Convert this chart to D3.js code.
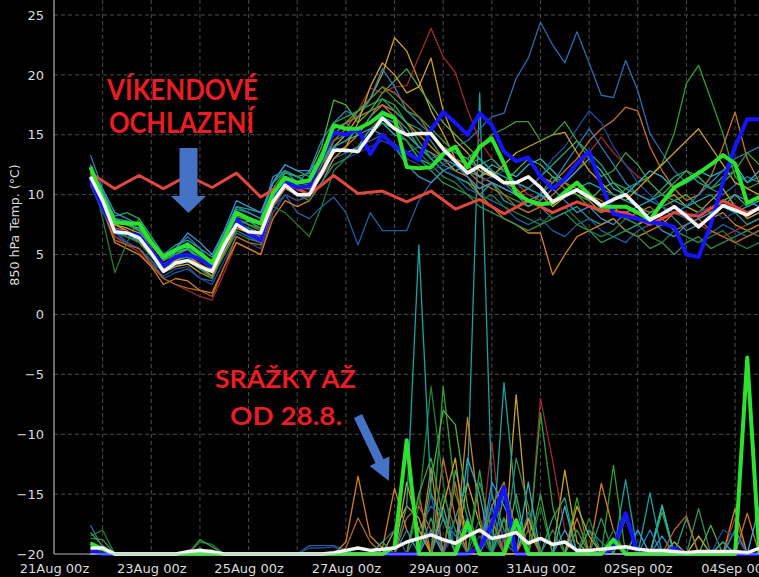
<!DOCTYPE html>
<html><head><meta charset="utf-8">
<script src="https://cdn.jsdelivr.net/npm/d3@7"></script>
<style>html,body{margin:0;padding:0;background:#000;overflow:hidden}</style>
</head><body>
<svg id="chart" width="759" height="577"></svg>
<script>
// ---------- DATA ----------
const yTicks = [-20,-15,-10,-5,0,5,10,15,20,25];
const xTickDays = ["2025-08-21","2025-08-23","2025-08-25","2025-08-27","2025-08-29","2025-08-31","2025-09-02","2025-09-04"];
const runStart = "2025-08-21T18:00:00Z";   // first 6-hourly step
const stepHours = 6;
const climStepHours = 12;
const precipBase = -20;

const memberColors = ["#2b6cb0","#c9a227","#a3282a","#2ca02c","#1f9e9e","#1f5f9f","#d4811c","#c8702a","#4caf3f","#2ab0c8",
                      "#1e7f3a","#22a07a","#2a7fc0","#22489a","#d0a020","#2e8b57","#17a2a2","#b5651d","#3a9e3a","#3d8fd0"];

const m01Temp = [11.0,9.0,6.5,6.0,5.5,4.5,3.5,4.0,4.5,3.8,3.2,5.0,7.0,6.5, 6.0,9.0,10.5,10.0,10.2,11.5,13.0,13.5,14.0,14.5,15.0,14.2,13.5,14.0, 13.0,13.5,14.0,14.5,15.5,16.5,16.8,19.7,21.4,24.4,22.5,21.0,23.6,21.0, 18.3,18.1,21.2,18.7,15.1,13.5,12.0,11.0,11.5,10.5,10.0,10.8,11.5,11.0];
const m02Temp = [11.8,9.5,7.5,7.0,6.0,5.0,3.5,4.0,4.2,3.5,3.0,5.5,7.5,7.0, 6.8,10.0,11.0,10.5,10.0,12.0,14.0,15.0,16.5,18.0,20.1,23.1,22.0,19.5, 17.0,15.1,13.0,12.5,11.5,12.0,11.0,10.5,9.5,10.0,9.0,9.8,10.5,9.5, 8.5,9.0,8.0,7.5,8.0,9.5,10.0,9.0,8.5,9.5,10.5,9.0,8.0,8.5];
const m03Temp = [11.5,9.2,6.5,5.8,5.2,4.0,3.0,2.5,2.0,1.5,1.2,3.5,6.0,5.5, 5.0,8.5,10.0,9.5,9.8,12.5,15.0,16.0,17.0,18.9,18.5,19.0,19.1,21.5, 23.9,21.5,20.2,17.1,14.5,13.0,12.0,11.0,10.0,9.5,10.5,11.0,12.0,13.5, 14.8,13.5,12.5,11.5,11.0,10.0,9.0,8.5,7.5,7.0,6.5,7.0,7.5,8.0];
const m04Temp = [12.0,10.0,8.0,7.5,7.0,6.0,4.5,5.0,5.5,4.8,4.0,6.5,8.5,8.0, 7.5,10.5,12.0,11.5,11.0,13.5,16.0,16.5,17.0,17.5,18.0,17.5,16.0,14.5, 13.0,12.0,11.5,11.0,10.5,11.0,10.0,9.5,9.0,10.0,11.5,11.0,10.0,9.0, 8.5,9.5,10.5,11.0,11.5,12.6,15.1,19.3,20.8,18.0,15.1,11.5,10.5,11.0];
const m05Temp = [11.2,9.3,7.0,6.5,6.2,5.0,4.0,4.5,4.8,4.0,3.5,5.8,7.8,7.2, 6.8,9.5,11.0,10.5,10.8,12.5,14.5,15.0,15.5,16.0,17.0,16.5,15.5,14.0, 13.0,12.0,11.5,11.0,10.0,11.0,9.5,9.0,8.5,9.0,8.0,8.5,9.0,8.0, 7.5,8.0,7.0,7.5,8.5,9.0,8.0,7.0,7.5,8.0,9.0,8.5,7.5,8.0];
const m06Temp = [12.5,10.0,7.0,6.0,5.5,4.5,3.0,3.5,3.8,3.0,2.8,5.5,8.0,7.0, 6.0,9.0,10.0,8.5,8.0,9.0,9.8,8.5,5.8,8.5,7.0,7.0,7.0,9.5, 11.0,12.0,11.5,10.5,10.0,9.5,9.0,8.0,7.5,8.0,7.0,6.5,7.5,8.0, 7.0,6.5,6.0,7.0,7.5,8.0,7.0,6.5,6.0,6.8,7.5,7.0,6.5,7.0];
const m07Temp = [11.0,8.8,6.0,5.5,5.0,4.0,2.5,3.0,2.8,2.0,1.8,4.0,6.0,5.5, 5.0,8.0,9.5,9.0,9.5,11.0,13.0,14.0,15.0,16.5,17.5,17.0,16.0,15.0, 14.0,13.0,12.0,11.5,10.0,9.0,8.0,7.5,6.8,6.8,3.3,5.0,6.5,7.0, 7.5,8.0,7.0,6.5,7.0,7.5,8.5,8.0,7.5,8.0,8.5,7.5,7.0,7.5];
const m08Temp = [11.5,9.5,7.2,7.0,6.5,5.2,4.2,4.8,5.0,4.2,3.6,6.0,8.0,7.5, 7.0,10.0,11.5,11.0,11.0,13.0,15.5,16.0,16.5,17.0,17.5,16.5,15.0,14.0, 13.5,13.0,12.0,12.5,11.5,11.0,10.5,10.0,10.5,11.5,11.0,12.0,13.0,14.5, 15.5,16.2,17.3,17.0,14.0,12.0,10.5,9.5,10.0,11.5,14.0,16.9,13.0,11.0];
const m09Temp = [12.0,9.8,7.5,7.8,7.0,5.5,4.0,5.0,5.5,4.5,3.8,6.0,8.2,7.8, 7.2,10.2,11.8,11.5,11.8,14.0,17.9,17.5,16.0,17.0,18.5,19.5,20.5,19.0, 17.5,16.0,15.0,14.0,13.0,12.0,11.0,12.0,13.0,12.5,11.5,10.5,10.0,9.5, 10.5,11.0,10.0,9.0,8.5,9.0,9.5,10.0,9.0,8.5,9.5,10.0,9.0,9.5];
const m10Temp = [11.6,9.5,7.8,7.5,7.2,5.8,4.5,5.2,5.5,4.6,3.8,5.5,7.5,7.8, 7.5,10.0,11.0,10.8,10.5,12.0,14.0,14.5,15.0,15.5,16.0,15.0,14.5,13.0, 12.5,13.0,12.5,12.0,11.5,12.5,12.0,11.5,12.5,13.0,12.0,11.0,12.0,13.0, 12.0,10.5,10.0,11.0,12.0,11.5,10.5,11.0,12.0,11.5,12.0,12.5,11.0,12.0];
const m11Temp = [12.2,8.0,3.5,6.0,8.0,6.5,5.0,4.5,5.0,4.5,4.0,6.0,8.0,7.5, 7.0,9.0,8.5,7.5,6.5,9.0,12.0,13.0,14.0,15.5,16.5,15.5,14.5,13.5, 12.5,11.5,11.0,10.0,9.5,10.0,9.0,8.5,8.0,7.5,8.5,9.0,8.0,7.0, 6.5,7.0,8.0,7.5,6.5,6.0,7.0,6.5,6.0,6.5,7.0,6.0,5.5,6.0];
const m12Temp = [11.8,10.0,8.2,8.5,8.0,6.5,5.0,5.5,6.0,5.0,4.5,6.5,8.8,8.5, 8.0,11.0,12.5,12.0,11.5,13.5,15.5,16.0,15.0,16.5,18.0,17.0,16.0,15.5, 14.5,13.0,12.5,12.0,12.5,13.0,12.0,11.0,10.5,11.5,12.5,13.5,14.5,13.5, 12.5,11.0,10.5,10.0,9.5,10.5,11.5,12.0,11.0,10.5,11.5,12.0,11.0,11.5];
const m13Temp = [13.3,10.5,8.0,7.5,7.0,6.0,4.5,5.5,6.5,5.5,4.0,6.0,9.0,8.5, 8.0,11.5,12.0,11.0,12.0,14.5,16.0,17.0,16.5,18.0,20.5,19.0,17.0,16.0, 15.0,14.0,13.5,13.0,12.0,11.5,11.0,10.0,9.5,10.0,11.0,12.5,14.0,15.5, 14.0,12.5,11.0,10.0,9.5,9.0,8.5,9.0,10.0,11.0,12.0,13.0,13.5,14.0];
const m14Temp = [10.8,8.5,6.8,6.0,5.5,4.2,3.2,3.8,4.0,3.0,2.5,4.5,6.5,6.0, 5.5,8.5,10.0,9.5,10.0,11.0,12.5,13.0,13.5,14.0,14.5,14.0,13.0,12.5, 12.0,12.5,13.0,12.0,11.0,11.5,12.0,11.0,10.5,11.5,13.0,14.0,15.5,17.0, 16.0,14.0,12.5,11.0,10.0,9.0,8.5,8.0,8.5,9.0,8.0,8.5,9.5,9.0];
const m15Temp = [11.3,9.0,7.5,7.2,6.8,5.5,4.0,4.5,5.0,4.0,3.2,5.2,7.2,6.8, 6.5,9.5,11.0,10.5,10.5,12.0,13.5,14.0,16.0,19.0,21.0,20.0,18.5,19.0, 21.4,17.0,14.5,13.5,12.0,11.5,12.5,13.5,14.0,14.5,15.0,15.2,13.5,12.0, 11.0,10.0,9.5,10.5,11.5,12.5,13.5,14.5,15.5,14.0,12.5,11.0,10.5,10.0];
const m16Temp = [11.5,9.2,6.8,6.5,6.0,4.8,3.8,4.2,4.5,3.8,3.0,5.0,6.8,6.3, 6.0,9.2,10.5,10.0,9.5,11.0,12.5,13.0,14.0,15.0,16.0,15.5,14.5,13.0, 12.0,11.0,10.5,10.0,9.0,8.5,8.0,7.5,7.0,7.5,8.0,8.5,7.5,7.0, 6.0,6.5,7.0,6.5,5.5,6.0,5.0,6.0,6.5,5.5,6.0,6.5,7.0,6.5];
const m17Temp = [12.0,10.5,8.5,8.0,7.5,6.2,5.0,5.8,6.2,5.5,4.8,6.8,9.0,8.8, 8.5,11.0,12.0,11.5,11.0,12.5,14.0,14.5,15.5,16.0,16.5,16.0,15.0,14.0, 13.5,12.5,12.0,12.5,13.0,12.0,11.5,11.0,10.5,10.0,9.5,10.0,10.5,11.0, 10.5,10.0,9.5,9.0,9.5,10.0,9.5,9.0,9.5,10.0,9.0,8.5,9.0,9.5];
const m18Temp = [11.0,9.0,6.2,5.8,5.5,4.2,3.0,2.5,2.2,2.0,1.5,4.0,6.5,6.0, 5.8,9.0,10.5,10.0,10.0,12.0,14.5,15.5,17.0,18.0,19.0,18.5,17.5,16.5, 15.0,14.0,13.0,12.0,11.0,10.5,10.0,9.0,8.5,9.0,10.0,11.0,10.5,10.0, 9.5,8.5,8.0,8.5,9.0,8.0,7.0,7.5,8.0,7.0,6.5,6.0,6.5,7.0];
const m19Temp = [11.8,9.8,7.8,7.5,7.0,5.8,4.6,5.0,5.4,4.6,3.8,5.8,8.0,7.5, 7.2,10.0,11.5,11.0,10.8,12.5,15.0,16.0,17.0,18.0,19.0,18.0,17.0,16.5, 15.5,14.5,13.5,13.0,14.0,15.0,15.5,16.1,16.1,14.5,15.0,16.1,14.5,13.0, 11.5,12.0,13.5,12.5,11.0,10.0,11.0,12.0,11.5,10.5,11.0,12.0,13.5,12.5];
const m20Temp = [12.5,10.2,8.0,7.8,7.5,6.0,4.8,5.5,6.8,6.0,5.0,7.0,9.5,9.0, 8.5,11.0,12.5,12.0,12.0,13.0,14.0,13.5,14.0,15.5,15.0,14.0,12.5,11.5, 11.0,12.0,12.5,11.5,10.5,11.0,10.5,10.0,9.0,9.5,10.5,9.5,8.5,9.0, 8.0,7.5,8.5,9.0,8.0,7.0,6.5,7.5,8.0,8.5,9.0,10.0,9.5,9.0];

const m01Precip = [2.4,0.5,0,0,0,0,0,0,0,0,0,0,0,0, 0,0,0,0,0,0,0,0,0,0,0,0,0,2, 4,3,1.5,2.5,0,5,1,0,0,0,0,0,0,2, 1,0,0,0,0,0,0,0,0,0,0,0,0,0];
const m02Precip = [0,0,0,0,0,0,0,0,0,0,0,0,0,0, 0,0,0,0,0,0,0,0,0,0,0,2,4,3, 0,0,0,6,2.5,0,0,13.3,2,0,0,7,1,0, 0,0,0,0,0,0,1,0,0,0,0,0,0,0];
const m03Precip = [0,0,0,0,0,0,0,0,0,0,0,0,0,0, 0,0,0,0,0,0,0,0,0,0,0,0,0,0, 0,0,3,0,0,9.3,0,2,0,13,7.8,2,0,0, 0,0,3.5,0,0,0,0,0,0,0,0,3,0,0];
const m04Precip = [0,0,0,0,0,0,0,0,0,0,0,0,0,0, 0,0,0,0,0,0,0,0,0,0,0,0,0,0, 0,14,5,2,0,0,0,0,0,11.8,4,0,4.7,0, 0,7.4,0,0,0,3.5,0,0,0,0,0,0,0,0];
const m05Precip = [0,0,0,0,0,0,0,0,0,0,0,0,0,0, 0,0,0,0,0,0,0,0,0,0,0,0,0,0, 0,0,3,6,38.5,5,2,0,3,0,0,0,0,0, 0,0,0,0,0,0,0,0,0,0,0,0,0,0];
const m06Precip = [0,0,0,0,0,0,0,0,0,0,0,0,0,0, 0,0,0,0,0.7,0.7,0.7,0.3,0,0,1,2,0,0, 5,0,3,0,0,2,0,0,3.5,0,0,0,0,0, 0,0,0,2,0,0,0,0,0,0,0,0,0,0];
const m07Precip = [0,0,0,0,0,0,0,0,0,0,0,0,0,0, 0,0,0,0,0,0,0,1,6.5,1.5,0.5,5.5,2,0, 7.2,0,0,11.4,3,0,0,0,0,0,0,0,0,0, 5.9,2,0,0,0,0,0,0,0,0,0,3.8,0,0];
const m08Precip = [0,0,0,0,0,0,0,0,0,0,0,0,0,0, 0,0,0,0,0,0,0,0,0,0,0,0,0,5, 0,8,3,0,0,4,6,2,0,0,0,0,3,0, 0,0,0,0,0,0,0,0,0,0,1,0,3.4,0];
const m09Precip = [0,0,0,0,0,0,0,0,0,0,0,0,0,0, 0,0,0,0,0,0,0,0,0,0,0,0,0,0, 6,12,10.8,4,0,3,0,5,0,0,0,0,0,0, 0,0,0,0,0,4.1,0,0,0,2.4,0,0,0,0];
const m10Precip = [0,0,0,0,0,0,0,0,0,0,0,0,0,0, 0,0,0,0,0,0,0,0,0,0,0,0,0,0, 0,4,0,8,5,0,3,0,6,0,0,4,0,0, 0,0,0,0,0,4,0,0,0,0,0,0,0,4];
const m11Precip = [1.5,2,0,0,0,0,0,0,0,1,0.8,0,0,0, 0,0,0,0,0,0,0,0,0,0,0,0,0,4, 14,6,0,0,3,0,0,0,0,4,0,0,0,3, 0,2,0,0,0,0,0,0,1.5,0,0,0,0,0];
const m12Precip = [0,0,0,0,0,0,0,0,0,0,0,0,0,0, 0,0,0,0,0,0,0,0,0,0,1,0,0,0, 3,0,7,3,0,0,5,0,0,0,3,4.7,0,2, 0,0,0,0,0,0,0,3,0,0,0,2,0,0];
const m13Precip = [1,0,0,0,0,0,0,0,0,0,0,0,0,0, 0,0,0,0,0,0,0,0,0,0,0,0,2,0, 0,3,0,2,0,4,0,3,0,0,0,0,0,0, 0,0,0,0,2,0,0,0,0,0,0,2,0,0];
const m14Precip = [0,0,0,0,0,0,0,0,0,0,0,0,0,0, 0,0,0,0,0.5,0.5,0.6,0,0,0,0,0,0,0, 2,0,2,0,1.5,0,2,0,0,0,0,0,0,0, 0,0,0,0,0,0,0,0,0,0,2,1.5,0,0];
const m15Precip = [0,0,0,0,0,0,0,0,0,0,0,0,0,0, 0,0,0,0,0,0,0,0,0,0,0,0,6,2, 0,4,8,0,0,0,0,0,3,0,0,0,4,1.5, 0,0,0,0,0,0,0,0,1.5,0,0,0,0,0];
const m16Precip = [1.3,1.2,0,0,0,0,0,0,0,0.5,0,0,0,0, 0,0,0,0,0,0,0,0,0,0,0,0,0,0, 0,5,2,0,6,2,0,8,4,0,2,0,0,0, 3,0,0,0,0,0,0,0,3.8,0,0,0,0,0];
const m17Precip = [0,0,0,0,0,0,0,0,0,0,0,0,0,0, 0,0,0,0,0,0,0,0,0,0,0,0,4,25.8, 5,3,0,0,0,0,14.3,4,0,0,0,0,0,0, 0,0,6.2,0,5.1,0,0,0,0,0,1,0,0,0];
const m18Precip = [0,0,0,0,0,0,0,0,0,0,0,0,0,0, 0,0,0,0,0,0,0,0.5,3,1,0,0,3,4, 2,0,6,0,0,3,0,0,2,0,0,0,0,0, 0,0,0,0,0,0,2,3.2,0,0,0,0,0,0];
const m19Precip = [1.8,0.7,0,0,0,0,0,0,0,1.2,0.6,0,0,0, 0,0,0,0,0,0,0,0,0,0,0,0,0,5, 8,3,0,0,7,0,3,0,0,5,0,0,2,0, 0,0,3,0,0,0,0,0,0,0,0,0,0,0];
const m20Precip = [0,0,0,0,0,0,0,0,0,0,0,0,0,0, 0,0,0,0,0,0,0,0,0,0,0,0,0,0, 2,0,0,3,0,6,4,2,0,0,0,2,0,0, 0,0,0,2,0,1.5,0,0,0,0,0,0,0,0];

const controlTemp = [12.3,9.8,7.7,7.6,7.6,6.0,4.8,5.4,5.8,5.1,4.3,6.3,8.5,8.0, 7.6,10.1,11.4,11.0,11.2,13.1,15.8,15.5,15.5,16.0,16.8,16.4,12.3,12.2, 12.3,13.4,14.0,12.3,14.0,14.7,12.6,10.1,9.5,9.2,9.3,10.2,11.0,10.0, 9.0,9.0,9.0,8.5,7.9,9.3,10.6,11.2,11.8,12.5,13.3,12.6,9.3,9.8];
const operTemp    = [11.3,9.0,7.0,6.8,6.6,5.3,4.0,4.8,5.0,4.6,4.0,6.0,8.0,6.8, 6.2,9.8,11.1,10.6,10.7,13.0,15.2,15.0,15.5,13.4,15.0,14.0,13.5,12.9, 15.4,16.9,16.0,15.0,16.8,15.8,13.6,12.8,13.1,11.5,10.5,11.3,12.6,13.6, 10.8,8.4,8.2,8.0,7.7,7.6,7.3,5.0,4.8,7.5,11.0,14.0,16.3,16.3];
const meanTemp    = [11.5,9.5,6.9,6.8,6.4,5.1,3.6,4.3,4.5,4.0,3.6,5.8,7.5,6.9, 6.8,9.4,10.8,10.0,10.0,11.8,13.7,13.7,13.6,15.0,16.4,15.5,15.0,15.1, 15.1,13.8,12.8,11.8,12.4,11.7,11.0,11.0,11.5,10.6,9.4,9.9,10.4,9.8, 9.1,9.6,10.0,9.0,7.9,8.4,9.0,8.2,7.3,8.2,9.1,8.7,8.3,8.9];
const climTemp    = [11.8,10.5,11.6,10.5,11.6,10.6,11.8,9.8,11.0,10.0,11.6,10.1,10.3,9.4,10.3,8.8,9.6,8.4,9.5,8.5,9.4,8.7,8.5,7.5,8.5,8.2,9.5,8.5,9.2];

const controlPrecip = [0.9,0.4,0,0,0,0,0,0,0,0,0,0,0,0, 0,0,0,0,0,0,0,0,0,0,0,0.6,9.5,0, 0,0,0,2.6,0,0,0,2.8,0,0,0,0,0,0, 0,1.2,0,0,0,0,0,0,0,0,0,0,16.4,0];
const operPrecip    = [0.3,0,0,0,0,0,0,0,0,0,0,0,0,0, 0,0,0,0,0,0,0,0,0,0,0,0,0,0, 0,0,0,0,0.5,2.5,5.6,0,0,0,0,0,0,0, 0,0.5,3.4,0,0,0,0.5,0,0,0,0,0,0,0];
const meanPrecip    = [0.5,0.5,0,0,0,0,0,0,0.2,0.3,0.2,0,0,0, 0,0,0,0,0,0,0.1,0.3,0.5,0.3,0.4,0.5,1.0,1.3, 1.6,1.2,0.9,1.5,2.0,1.3,1.5,1.8,0.9,1.3,0.8,1.0,0.3,0.3, 0.4,0.5,0.6,0.4,0.3,0.3,0.2,0.1,0.2,0.2,0.2,0.2,0.1,0.5];

const memberTemps = [m01Temp,m02Temp,m03Temp,m04Temp,m05Temp,m06Temp,m07Temp,m08Temp,m09Temp,m10Temp,m11Temp,m12Temp,m13Temp,m14Temp,m15Temp,m16Temp,m17Temp,m18Temp,m19Temp,m20Temp];
const memberPrecips = [m01Precip,m02Precip,m03Precip,m04Precip,m05Precip,m06Precip,m07Precip,m08Precip,m09Precip,m10Precip,m11Precip,m12Precip,m13Precip,m14Precip,m15Precip,m16Precip,m17Precip,m18Precip,m19Precip,m20Precip];

// ---------- CHART ----------
const svg = d3.select("#chart");
svg.append("rect").attr("width",759).attr("height",577).attr("fill","#000");

const x = d3.scaleUtc()
  .domain([new Date("2025-08-21T00:00:00Z"), new Date("2025-09-04T12:00:00Z")])
  .range([54, 759.4]);
const y = d3.scaleLinear().domain([-20, 25]).range([554, 15]);
const plotTop = 0, plotBottom = 554, plotLeft = 54, plotRight = 759;

const t0 = new Date(runStart).getTime();
const timeAt = (i, h) => new Date(t0 + i * h * 3600e3);

// grid
const grid = svg.append("g");
grid.selectAll("line.h").data(yTicks.filter(v => v > -20)).join("line")
  .attr("x1", plotLeft).attr("x2", plotRight)
  .attr("y1", d => y(d)).attr("y2", d => y(d))
  .attr("stroke", "#4a4a4a").attr("stroke-width", 1).attr("stroke-dasharray", "4,3");
grid.selectAll("line.v").data(d3.utcDay.range(new Date("2025-08-22T00:00:00Z"), new Date("2025-09-05T00:00:00Z"))).join("line")
  .attr("x1", d => x(d)).attr("x2", d => x(d))
  .attr("y1", plotTop).attr("y2", plotBottom)
  .attr("stroke", "#4a4a4a").attr("stroke-width", 1).attr("stroke-dasharray", "4,3");

// axes
const yAxis = svg.append("g").attr("transform", `translate(${plotLeft},0)`)
  .call(d3.axisLeft(y).tickValues(yTicks).tickSize(0).tickPadding(10));
yAxis.select(".domain").remove();
yAxis.selectAll("text").attr("fill", "#dcdcdc").style("font-family", "'DejaVu Sans'").style("font-size", "13px");

const xAxis = svg.append("g").attr("transform", `translate(0,${plotBottom})`)
  .call(d3.axisBottom(x).tickValues(xTickDays.map(d => new Date(d + "T00:00:00Z")))
    .tickFormat(d3.utcFormat("%d%b %Hz")).tickSize(0).tickPadding(10));
xAxis.select(".domain").remove();
xAxis.selectAll("text").attr("fill", "#dcdcdc").style("font-family", "'DejaVu Sans'").style("font-size", "13px");

svg.append("text").attr("transform", "translate(18.5,225) rotate(-90)")
  .attr("text-anchor", "middle").attr("fill", "#dcdcdc")
  .style("font-family", "'DejaVu Sans'").style("font-size", "12.6px")
  .text("850 hPa Temp. (°C)");

// lines
const plot = svg.append("g");
const lineT = (h) => d3.line().x((d, i) => x(timeAt(i, h))).y(d => y(d));
const lineP = d3.line().x((d, i) => x(timeAt(i, stepHours))).y(d => y(precipBase + d));

memberPrecips.forEach((p, k) => {
  plot.append("path").attr("d", lineP(p)).attr("fill", "none")
    .attr("stroke", memberColors[k]).attr("stroke-width", 1.3).attr("stroke-linejoin", "round");
});
memberTemps.forEach((t, k) => {
  plot.append("path").attr("d", lineT(stepHours)(t)).attr("fill", "none")
    .attr("stroke", memberColors[k]).attr("stroke-width", 1.3).attr("stroke-linejoin", "round");
});

// axis lines
svg.append("line").attr("x1", plotLeft).attr("x2", plotLeft).attr("y1", plotTop).attr("y2", plotBottom)
  .attr("stroke", "#b4b4b4").attr("stroke-width", 1.2);
svg.append("line").attr("x1", plotLeft).attr("x2", plotRight).attr("y1", plotBottom).attr("y2", plotBottom)
  .attr("stroke", "#b4b4b4").attr("stroke-width", 1.2);

plot.append("path").attr("d", lineT(climStepHours)(climTemp)).attr("fill", "none")
  .attr("stroke", "#e0473f").attr("stroke-width", 3).attr("stroke-linejoin", "round");

[[operPrecip, operTemp, "#1414ff"], [controlPrecip, controlTemp, "#2de22d"]].forEach(([p, t, c]) => {
  plot.append("path").attr("d", lineP(p)).attr("fill", "none").attr("stroke", c).attr("stroke-width", 4).attr("stroke-linejoin", "round");
  plot.append("path").attr("d", lineT(stepHours)(t)).attr("fill", "none").attr("stroke", c).attr("stroke-width", 4).attr("stroke-linejoin", "round");
});
plot.append("path").attr("d", lineP(meanPrecip)).attr("fill", "none").attr("stroke", "#f4f4f4").attr("stroke-width", 3.5).attr("stroke-linejoin", "round");
plot.append("path").attr("d", lineT(stepHours)(meanTemp)).attr("fill", "none").attr("stroke", "#f4f4f4").attr("stroke-width", 3.5).attr("stroke-linejoin", "round");

// annotations
const ann = svg.append("g").style("font-family", "Lato, 'Open Sans', sans-serif").style("font-weight", "bold").attr("fill", "#ec1c24");
ann.append("text").attr("x", 107).attr("y", 100).style("font-size", "28px").attr("textLength", 151).attr("lengthAdjust", "spacingAndGlyphs").text("VÍKENDOVÉ");
ann.append("text").attr("x", 109).attr("y", 133).style("font-size", "28px").attr("textLength", 145).attr("lengthAdjust", "spacingAndGlyphs").text("OCHLAZENÍ");
ann.append("text").attr("x", 215).attr("y", 388).style("font-size", "24px").attr("textLength", 141).attr("lengthAdjust", "spacingAndGlyphs").text("SRÁŽKY AŽ");
ann.append("text").attr("x", 230).attr("y", 425).style("font-size", "24px").attr("textLength", 112).attr("lengthAdjust", "spacingAndGlyphs").text("OD 28.8.");

function arrow(x1, y1, x2, y2, shaftHalf, headHalf, headLen) {
  const dx = x2 - x1, dy = y2 - y1, L = Math.hypot(dx, dy);
  const ux = dx / L, uy = dy / L, px = -uy, py = ux;
  const bx = x2 - ux * headLen, by = y2 - uy * headLen;
  const pts = [
    [x1 + px * shaftHalf, y1 + py * shaftHalf], [bx + px * shaftHalf, by + py * shaftHalf],
    [bx + px * headHalf, by + py * headHalf], [x2, y2],
    [bx - px * headHalf, by - py * headHalf], [bx - px * shaftHalf, by - py * shaftHalf],
    [x1 - px * shaftHalf, y1 - py * shaftHalf]];
  svg.append("polygon").attr("points", pts.map(p => p.join(",")).join(" ")).attr("fill", "#4472c4");
}
arrow(188.5, 148, 188.5, 213, 9, 17.5, 17);
arrow(358, 416, 389, 481, 4.5, 11, 22);
</script>
</body></html>
